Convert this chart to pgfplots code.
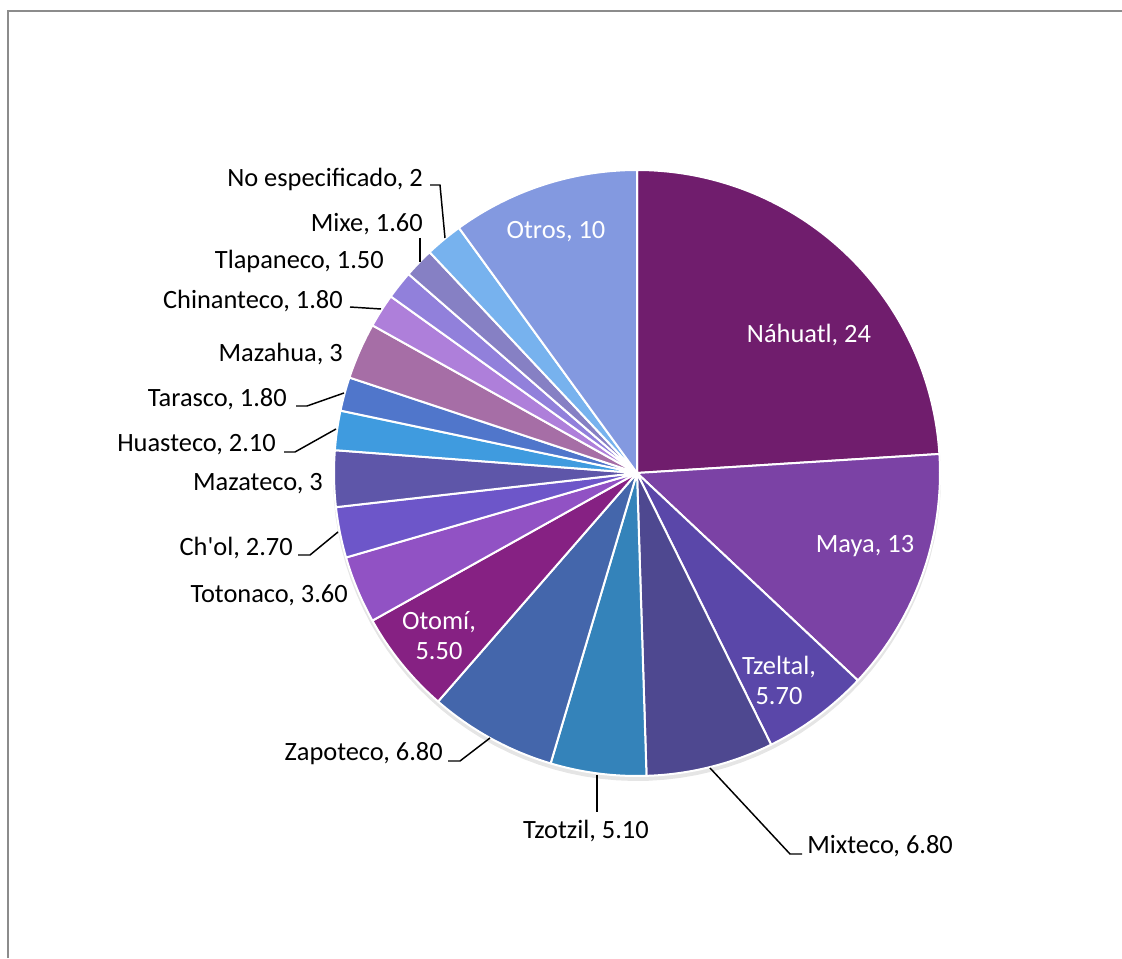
\documentclass[border=0pt]{standalone}
\usepackage{fontspec}
\setmainfont{Carlito}
\usepackage{pgfplots}
\pgfplotsset{compat=1.18}
\definecolor{cNah}{HTML}{701D6D}
\definecolor{cMaya}{HTML}{7B42A5}
\definecolor{cTzel}{HTML}{5A47A9}
\definecolor{cMixt}{HTML}{4E4890}
\definecolor{cTzot}{HTML}{3483BA}
\definecolor{cZapo}{HTML}{4466AB}
\definecolor{cOtom}{HTML}{862183}
\definecolor{cToto}{HTML}{9152C4}
\definecolor{cChol}{HTML}{6D56C9}
\definecolor{cMazt}{HTML}{5E56A9}
\definecolor{cHuas}{HTML}{3F9BDF}
\definecolor{cTara}{HTML}{5076CB}
\definecolor{cMazh}{HTML}{A66EA6}
\definecolor{cChin}{HTML}{AE7FDA}
\definecolor{cTlap}{HTML}{9180DB}
\definecolor{cMixe}{HTML}{8680C4}
\definecolor{cNoes}{HTML}{77B2EE}
\definecolor{cOtro}{HTML}{8399E0}
\definecolor{bordergray}{HTML}{8C8C8C}
\def\cum{0}
\newcommand\slice[2]{%
  \pgfmathsetmacro\sa{90-3.6*\cum}%
  \pgfmathsetmacro\sb{90-3.6*(\cum+#1)}%
  \edef\doslice{\noexpand\addplot[fill=#2, draw=white, line width=1.5pt, line join=round, domain=\sb:\sa, samples=80] ({637+303*cos(x)},{485+303*sin(x)}) -- (637,485) -- cycle;}%
  \doslice
  \pgfmathsetmacro\newcum{\cum+#1}%
  \global\let\cum\newcum
}
\begin{document}
\begin{tikzpicture}[lab/.style={font=\fontsize{19.8}{23.5}\selectfont, inner sep=0pt},
  lead/.style={draw=black, line width=1.1pt}]
\begin{axis}[scale only axis, width=841.5pt, height=718.5pt,
  xmin=0, xmax=1122, ymin=0, ymax=958, hide axis, clip=false]
% border
\addplot[draw=bordergray, line width=1.6pt] coordinates {(8,0) (8,947) (1122,947)};
% shadow
\addplot[fill=black, fill opacity=0.10, draw=none, domain=0:360, samples=120] ({637+304*cos(x)},{481+304*sin(x)});
% slices, clockwise from top
\slice{24}{cNah}
\slice{13}{cMaya}
\slice{5.70}{cTzel}
\slice{6.80}{cMixt}
\slice{5.10}{cTzot}
\slice{6.80}{cZapo}
\slice{5.50}{cOtom}
\slice{3.60}{cToto}
\slice{2.70}{cChol}
\slice{3}{cMazt}
\slice{2.10}{cHuas}
\slice{1.80}{cTara}
\slice{3}{cMazh}
\slice{1.80}{cChin}
\slice{1.50}{cTlap}
\slice{1.60}{cMixe}
\slice{2}{cNoes}
\slice{10}{cOtro}
% leader lines
\addplot[lead] coordinates {(430,773) (440,773) (445,720)};
\addplot[lead] coordinates {(420,720) (420,696)};
\addplot[lead] coordinates {(350,651) (381,649)};
\addplot[lead] coordinates {(296,552) (307,552) (344,565)};
\addplot[lead] coordinates {(284,506) (295,506) (336,529)};
\addplot[lead] coordinates {(298,403) (310,403) (338,426)};
\addplot[lead] coordinates {(448,197) (460,197) (490,220)};
\addplot[lead] coordinates {(597,183) (597,146)};
\addplot[lead] coordinates {(802,104) (790,104) (710,190)};
% inside labels
\node[lab, text=white, anchor=base] at (809,615) {Náhuatl, 24};
\node[lab, text=white, anchor=base] at (865,405) {Maya, 13};
\node[lab, text=white, anchor=base] at (779,283) {Tzeltal,};
\node[lab, text=white, anchor=base] at (779,253) {5.70};
\node[lab, text=white, anchor=base] at (439,328) {Otomí,};
\node[lab, text=white, anchor=base] at (439,298) {5.50};
\node[lab, text=white, anchor=base] at (556,719) {Otros, 10};
% outside labels
\node[lab, anchor=base east] at (423,771) {No especificado, 2};
\node[lab, anchor=base east] at (423,726) {Mixe, 1.60};
\node[lab, anchor=base east] at (384,689) {Tlapaneco, 1.50};
\node[lab, anchor=base east] at (343,649) {Chinanteco, 1.80};
\node[lab, anchor=base east] at (343,596) {Mazahua, 3};
\node[lab, anchor=base east] at (287,551) {Tarasco, 1.80};
\node[lab, anchor=base east] at (276,506) {Huasteco, 2.10};
\node[lab, anchor=base east] at (323,467) {Mazateco, 3};
\node[lab, anchor=base east] at (293,402) {Ch\textquotesingle ol, 2.70};
\node[lab, anchor=base east] at (348,355) {Totonaco, 3.60};
\node[lab, anchor=base east] at (443,197) {Zapoteco, 6.80};
\node[lab, anchor=base] at (586,120) {Tzotzil, 5.10};
\node[lab, anchor=base west] at (807,104) {Mixteco, 6.80};
\end{axis}
\pgfresetboundingbox
\path (current axis.south west) rectangle (current axis.north east);
\end{tikzpicture}
\end{document}
